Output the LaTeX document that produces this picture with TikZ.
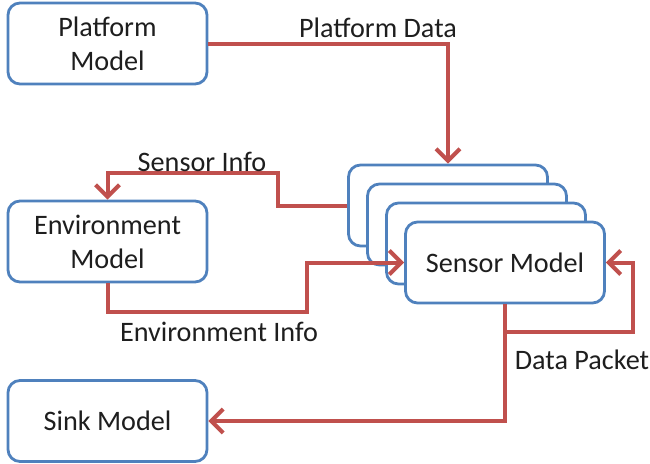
\documentclass[tikz,border=0pt]{standalone}
\usepackage{fontspec}
\setmainfont{Carlito}
\usetikzlibrary{arrows.meta}
\definecolor{boxblue}{HTML}{4F81BD}
\definecolor{linered}{HTML}{C0504D}
\definecolor{txt}{HTML}{1E1E1E}
\begin{document}
\begin{tikzpicture}[x=1pt,y=-1pt,
  model/.style={draw=boxblue, line width=2.8pt, rounded corners=12pt, fill=white,
    minimum width=199pt, minimum height=81pt, align=center, text=txt,
    font=\fontsize{28.2}{34}\selectfont, inner sep=0pt},
  flow/.style={draw=linered, line width=4pt, -{Straight Barb[length=12pt,width=24pt,line width=4pt]}},
  lbl/.style={text=txt, font=\fontsize{28.2}{34}\selectfont, inner sep=0pt}]
\useasboundingbox (0,0) rectangle (650,463);
\node[model] (pm) at (107.5,43.5) {Platform\\Model};
\node[model] (em) at (107.5,241.5) {Environment\\Model};
\node[model] (sink) at (107.5,421) {Sink Model};
\node[model] (s1) at (448,205.5) {};
\node[model] (s2) at (467,224.5) {};
\node[model] (s3) at (486,243.5) {};
\node[model] (sm) at (505,262.5) {Sensor Model};
\coordinate (siA) at (278,173);
\coordinate (eiA) at (307,312);
\coordinate (loopA) at (633,332);
\draw[flow] (pm.east) -| (s1.north);
\draw[flow] (s1.west) -| (siA) -| (em.north);
\draw[flow] (em.south) |- (eiA) |- (sm.west);
\draw[flow] (sm.south) |- (loopA) |- (sm.east);
\draw[flow] (sm.south) |- (sink.east);
\node[lbl] (lpd) at (378,28) {Platform Data};
\node[lbl] (lsi) at (202,162) {Sensor Info};
\node[lbl] (lei) at (219,332) {Environment Info};
\node[lbl] (ldp) at (582,360) {Data Packet};
\end{tikzpicture}
\end{document}
